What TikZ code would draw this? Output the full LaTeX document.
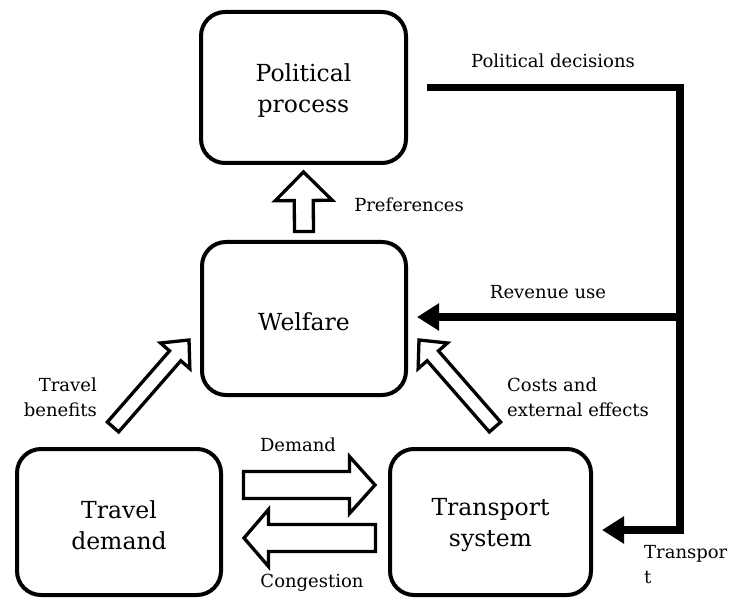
\documentclass[tikz,border=0pt]{standalone}
\usepackage{fontspec}
\setmainfont{DejaVu Serif}
\usetikzlibrary{arrows.meta,calc}
\newcommand\hollowarrow[5]{%
  \coordinate (hb) at ($(#2)!#5!(#1)$);
  \draw[hollow] ($(#1)!#3!90:(#2)$) -- ($(hb)!#3!90:(#2)$) -- ($(hb)!#4!90:(#2)$) -- (#2)
    -- ($(hb)!#4!-90:(#2)$) -- ($(hb)!#3!-90:(#2)$) -- ($(#1)!#3!-90:(#2)$) -- cycle;}
\newcommand\boxstrut{\rule{0pt}{24pt}}
\tikzset{
  box/.style={draw, line width=4pt, rounded corners=24pt, align=center, inner sep=0pt,
    font=\fontsize{23.5}{31}\selectfont},
  lab/.style={inner sep=0pt, font=\fontsize{18}{25}\selectfont},
  hollow/.style={draw, fill=white, line width=3.3pt, line join=miter},
  thick line/.style={line width=7.5pt, line join=miter},
  bigtip/.style={-{Triangle[length=22pt,width=26pt]}}
}
\begin{document}
\begin{tikzpicture}[x=1pt,y=-1pt]
\useasboundingbox (0,0) rectangle (729,599);
% boxes
\node[box, minimum width=205pt, minimum height=151pt] (pol) at (303.5,87.5) {\boxstrut Political\\process};
\node[box, minimum width=204pt, minimum height=153pt] (wel) at (304,318.5) {\boxstrut Welfare};
\node[box, minimum width=204pt, minimum height=146pt] (dem) at (119,522) {\boxstrut Travel\\demand};
\node[box, minimum width=201pt, minimum height=146pt] (tra) at (490.5,522) {\boxstrut Transport\\system};
% labels
\node[lab] (lpd) at (553,61) {Political decisions};
\node[lab] (lpr) at (409,205) {Preferences};
\node[lab] (lru) at (548,292) {Revenue use};
\node[lab, anchor=east, align=right] (ltb) at (97,397) {Travel\\benefits};
\node[lab, anchor=west, align=left] (lce) at (507,397) {Costs and\\external effects};
\node[lab] (ldm) at (298,445) {Demand};
\node[lab] (lcg) at (312,583) {Congestion};
\node[lab, anchor=west, align=left] (ltr) at (644,565) {Transpor\\t};
% hollow arrows
\coordinate (upT) at ($(wel.north)+(0,-8.5)$);
\coordinate (upP) at ($(pol.south)+(0,7)$);
\hollowarrow{upT}{upP}{9.5pt}{28.5pt}{28.5pt}
\coordinate (tbT) at (113,427);
\coordinate (tbP) at (189,340);
\hollowarrow{tbT}{tbP}{7.5pt}{19.5pt}{21pt}
\coordinate (ceT) at (495,427);
\coordinate (ceP) at (419,340);
\hollowarrow{ceT}{ceP}{7.5pt}{19.5pt}{21pt}
\coordinate (dmT) at (243.5,485);
\coordinate (dmP) at (375,485);
\hollowarrow{dmT}{dmP}{13.5pt}{28.5pt}{25.5pt}
\coordinate (cgT) at (375.5,538);
\coordinate (cgP) at (244,538);
\hollowarrow{cgT}{cgP}{13.5pt}{28.5pt}{24.5pt}
% political decisions loop
\coordinate (pdS) at ($(pol.east)+(19,0)$);
\coordinate (pdC1) at (680,87.5);
\coordinate (pdC2) at (680,530);
\coordinate (pdE) at ($(tra.east)+(9,8)$);
\coordinate (ruS) at (680,317);
\coordinate (ruE) at ($(wel.east)+(9,-1.5)$);
\draw[thick line, bigtip] (pdS) -- (pdC1) -- (pdC2) -- (pdE);
\draw[thick line, bigtip] (ruS) -- (ruE);
\end{tikzpicture}
\end{document}
